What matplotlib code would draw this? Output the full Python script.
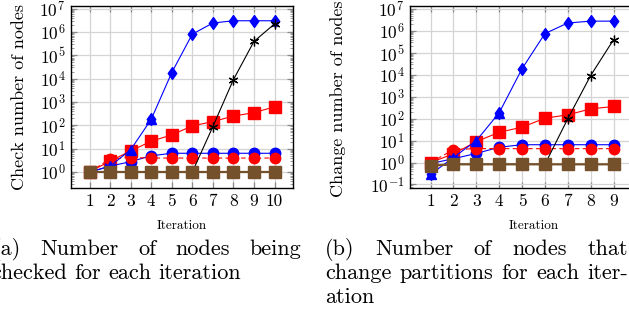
import numpy as np
import matplotlib
matplotlib.use("Agg")
import matplotlib.pyplot as plt
from matplotlib.ticker import LogLocator, FixedLocator, NullFormatter
from matplotlib.path import Path
from matplotlib.transforms import IdentityTransform

plt.rcParams['font.family'] = ['cmr10', 'DejaVu Serif']
plt.rcParams['mathtext.fontset'] = 'cm'
plt.rcParams['axes.formatter.use_mathtext'] = True

nan = np.nan
# ---------------- data: (a) checked nodes ----------------
iters_a = [1, 2, 3, 4, 5, 6, 7, 8, 9, 10]
a_red_square = [1, 3, 8, 21, 39, 95, 145, 250, 350, 620]
a_blue_circle = [1, 1.8, 2.8, 5, 6.4, 6.4, 6.4, 6.4, 6.4, 6.4]
a_red_circle = [1, 3.7, 4.2, 4, 4, 4, 4, 4, 4, 4]
a_blue_tri = [1, 1.8, 9, 180, nan, nan, nan, nan, nan, nan]
a_blue_dia = [nan, nan, nan, 180, 1.8e4, 8e5, 2.4e6, 3e6, 3e6, 3e6]
a_black_star = [1, 1, 1, 1, 1, 1, 88, 9e3, 3.9e5, 2.2e6]
a_brown_square = [1, 1, 1, 1, 1, 1, 1, 1, 1, 1]

# ---------------- data: (b) nodes changing partition ----------------
iters_b = [1, 2, 3, 4, 5, 6, 7, 8, 9]
b_red_square = [1, 2.5, 9, 24, 41, 105, 150, 280, 360]
b_blue_circle = [0.9, 1.5, 2.6, 5, 6.5, 6.5, 6.5, 6.5, 6.5]
b_red_circle = [1, 3.9, 4.3, 4.3, 4.3, 4.3, 4.3, 4.3, 4.3]
b_blue_tri = [0.29, 1.7, 10, 186, nan, nan, nan, nan, nan]
b_blue_dia = [0.29, nan, nan, 186, 1.9e4, 7.6e5, 2.3e6, 2.8e6, 2.8e6]
b_black_star = [0.72, 0.83, 0.83, 0.83, 0.83, 0.83, 100, 9.3e3, 4e5]
b_brown_square = [0.72, 0.83, 0.83, 0.83, 0.83, 0.83, 0.83, 0.83, 0.83]

xtick_labels = ['1', '2', '3', '4', '5', '6', '7', '8', '9', '10']

W, H = 629, 314
fig = plt.figure(figsize=(W / 100, H / 100), dpi=100)

diamond = Path([(0, 1), (0.72, 0), (0, -1), (-0.72, 0), (0, 1)],
               [Path.MOVETO, Path.LINETO, Path.LINETO, Path.LINETO, Path.CLOSEPOLY])

BLUE = '#0000ff'
RED = '#ff0000'
BROWN = '#74512b'
LW = 0.8


def draw(ax, x, rsq, bci, rci, btr, bdi, bst, brs):
    ax.plot(x, rsq, color=RED, lw=LW, marker='s', ms=8.5, mec=RED, mfc=RED, zorder=3)
    ax.plot(x, bci, color=BLUE, lw=LW, marker='o', ms=7.5, mec=BLUE, mfc=BLUE, zorder=4)
    ax.plot(x, rci, color=RED, lw=LW, ls=(0, (4, 3)), marker='o', ms=7.5, mec=RED, mfc=RED, zorder=5)
    ax.plot(x, btr, color=BLUE, lw=LW, marker='^', ms=6.5, mec=BLUE, mfc=BLUE, zorder=6)
    ax.plot(x, bdi, color=BLUE, lw=LW, marker=diamond, ms=8.5, mec=BLUE, mfc=BLUE, zorder=6)
    ax.plot(x, bst, color='black', lw=LW, marker=(6, 2, 0), ms=7, mec='black', mew=0.9, zorder=7)
    ax.plot(x, brs, color=BROWN, lw=1.6, marker='s', ms=8.5, mec=BROWN, mfc=BROWN, zorder=8)


def style(ax, ylim, ylabel, labelpad):
    ax.set_yscale('log')
    ax.set_xlim(0.1, 10.9)
    ax.set_ylim(*ylim)
    ax.xaxis.set_major_locator(FixedLocator(iters_a))
    ax.set_xticklabels(xtick_labels)
    ax.yaxis.set_major_locator(LogLocator(base=10, numticks=20))
    ax.yaxis.set_minor_locator(LogLocator(base=10, subs=np.arange(2, 10), numticks=20))
    ax.yaxis.set_minor_formatter(NullFormatter())
    ax.grid(True, which='major', color='#d4d4d4', lw=0.9)
    ax.set_axisbelow(True)
    ax.tick_params(which='major', direction='in', length=4, width=0.9, color='#8a8a8a',
                   top=True, right=True, labelsize=12.5, pad=4)
    ax.tick_params(which='minor', direction='in', length=2.5, width=0.6, color='#8a8a8a',
                   top=False, right=True, left=True)
    ax.tick_params(axis='x', which='minor', bottom=False, top=False)
    for s in ax.spines.values():
        s.set_linewidth(1.0)
    ax.set_xlabel('Iteration', fontsize=9.5, labelpad=8)
    ax.set_ylabel(ylabel, fontsize=13, labelpad=labelpad)


ax1 = fig.add_axes([71 / W, (H - 188) / H, (293 - 71) / W, (188 - 5.5) / H])
draw(ax1, iters_a, a_red_square, a_blue_circle, a_red_circle, a_blue_tri, a_blue_dia,
     a_black_star, a_brown_square)
style(ax1, (10 ** -0.68, 10 ** 7.13), 'Check number of nodes', 9)

ax2 = fig.add_axes([410 / W, (H - 188) / H, 247 / W, (188 - 5.5) / H])
draw(ax2, iters_b, b_red_square, b_blue_circle, b_red_circle, b_blue_tri, b_blue_dia,
     b_black_star, b_brown_square)
style(ax2, (10 ** -1.16, 10 ** 7.16), 'Change number of nodes', 15)
ax2.yaxis.set_label_coords(-0.26, 0.49)

# ---------------- captions (justified, as in the LaTeX source) ----------------
renderer = fig.canvas.get_renderer()
CFS = 16


def put_line(words, x0, x1, ytop, justify=True):
    y = H - ytop
    ts = [fig.text(0, y, w, fontsize=CFS, transform=IdentityTransform(), va='baseline') for w in words]
    widths = [t.get_window_extent(renderer).width for t in ts]
    if justify and len(words) > 1:
        gap = (x1 - x0 - sum(widths)) / (len(words) - 1)
    else:
        gap = 0.333 * CFS / 0.72
    x = x0
    for t, w in zip(ts, widths):
        t.set_position((x, y))
        x += w + gap


put_line(['(a)', 'Number', 'of', 'nodes', 'being'], -7, 301, 255)
put_line(['checked', 'for', 'each', 'iteration'], -9, 0, 279, justify=False)
put_line(['(b)', 'Number', 'of', 'nodes', 'that'], 325, 628, 255)
put_line(['change', 'partitions', 'for', 'each', 'iter-'], 325, 628, 279)
put_line(['ation'], 325, 0, 303, justify=False)

fig.savefig('out.png', dpi=100)
